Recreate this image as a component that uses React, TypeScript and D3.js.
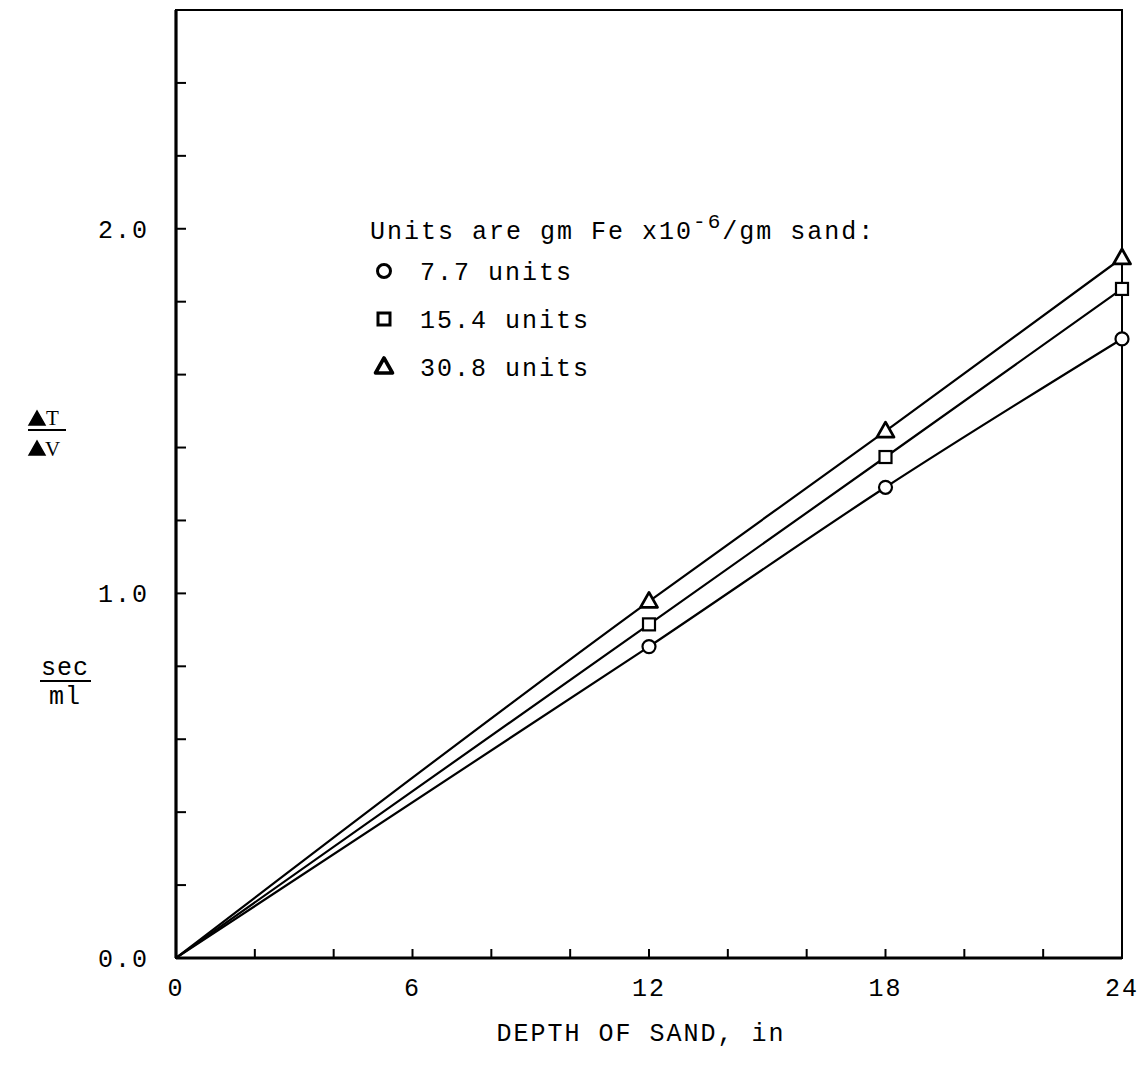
import React from "react";
import * as d3 from "d3";

// depth of sand (in) and measured dT/dV (sec/ml)
const depths = [0, 12, 18, 24];
const units77 = [0, 0.854, 1.291, 1.698];
const units154 = [0, 0.915, 1.374, 1.835];
const units308 = [0, 0.978, 1.445, 1.92];

const xTickLabels = [0, 6, 12, 18, 24];
const yTickLabels = [0, 1, 2];
const legendLabels = ["7.7 units", "15.4 units", "30.8 units"];

const FONT = "'Liberation Mono', 'DejaVu Sans Mono', monospace";

const App = () => {
  const margin = { top: 10, right: 18, bottom: 111, left: 176 };
  const W = 1140;
  const H = 1069;
  const width = W - margin.left - margin.right;
  const height = H - margin.top - margin.bottom;

  const x = d3.scaleLinear().domain([0, 24]).range([0, width]);
  const y = d3.scaleLinear().domain([0, 2.6]).range([height, 0]);

  const line = d3
    .line<number>()
    .x((_, i) => x(depths[i]))
    .y((d) => y(d))
    .curve(d3.curveMonotoneX);

  const series = [
    { vals: units77, shape: "circle" },
    { vals: units154, shape: "square" },
    { vals: units308, shape: "triangle" },
  ];

  const marker = (shape: string, cx: number, cy: number, key: string, sw = 2.2) => {
    if (shape === "circle")
      return <circle key={key} cx={cx} cy={cy} r={6.5} fill="#fff" stroke="#000" strokeWidth={sw} />;
    if (shape === "square")
      return <rect key={key} x={cx - 6} y={cy - 6} width={12} height={12} fill="#fff" stroke="#000" strokeWidth={sw} />;
    return (
      <path
        key={key}
        d={`M${cx},${cy - 9}L${cx + 8.5},${cy + 6}L${cx - 8.5},${cy + 6}Z`}
        fill="#fff"
        stroke="#000"
        strokeWidth={sw + 0.6}
        strokeLinejoin="round"
      />
    );
  };

  const textStyle = { fontFamily: FONT, fontSize: 25, letterSpacing: 2 };

  return (
    <svg
      width={W}
      height={H}
      style={{ position: "absolute", left: 0, top: 0, background: "#fff" }}
    >
      <g transform={`translate(${margin.left},${margin.top})`}>
        {/* frame */}
        <rect x={0} y={0} width={width} height={height} fill="none" stroke="#000" strokeWidth={2} />
        <line x1={0} y1={0} x2={0} y2={height} stroke="#000" strokeWidth={3.2} />
        <line x1={0} y1={height} x2={width} y2={height} stroke="#000" strokeWidth={3.2} />

        {/* minor ticks, inward */}
        {d3.range(2, 24, 2).map((t) => (
          <line key={"xt" + t} x1={x(t)} x2={x(t)} y1={height} y2={height - 9} stroke="#000" strokeWidth={2} />
        ))}
        {d3.range(1, 13).map((i) => (
          <line key={"yt" + i} x1={0} x2={10} y1={y(i * 0.2)} y2={y(i * 0.2)} stroke="#000" strokeWidth={2} />
        ))}

        {/* tick labels */}
        {xTickLabels.map((t) => (
          <text key={"xl" + t} x={x(t)} y={height + 38} textAnchor="middle" style={textStyle}>
            {t}
          </text>
        ))}
        {yTickLabels.map((t) => (
          <text key={"yl" + t} x={-27} y={y(t) + 9} textAnchor="end" style={textStyle}>
            {d3.format(".1f")(t)}
          </text>
        ))}

        {/* curves */}
        {series.map((s, i) => (
          <path key={"l" + i} d={line(s.vals) || ""} fill="none" stroke="#000" strokeWidth={2.2} />
        ))}
        {series.map((s, i) =>
          s.vals.map((v, j) => (j === 0 ? null : marker(s.shape, x(depths[j]), y(v), `m${i}-${j}`)))
        )}
      </g>

      {/* legend */}
      <text x={370} y={239} style={textStyle}>
        Units are gm Fe x10
        <tspan dy={-11} style={{ fontSize: 21 }}>-6</tspan>
        <tspan dy={11}>/gm sand:</tspan>
      </text>
      {legendLabels.map((lab, i) => (
        <g key={"lg" + i}>
          {marker(series[i].shape, 384, 271 + i * 48, "lm" + i, 3)}
          <text x={420} y={280 + i * 48} style={textStyle}>
            {lab}
          </text>
        </g>
      ))}

      {/* axis titles */}
      <text x={641} y={1041} textAnchor="middle" style={textStyle}>
        DEPTH OF SAND, in
      </text>
      <g style={{ fontFamily: "'Liberation Serif', serif", fontSize: 21 }}>
        <path d="M29,425L37,411L45,425Z" fill="#000" stroke="#000" strokeWidth={1.5} />
        <text x={46} y={425}>T</text>
        <line x1={28} x2={66} y1={430} y2={430} stroke="#000" strokeWidth={2.2} />
        <path d="M29,455L37,441L45,455Z" fill="#000" stroke="#000" strokeWidth={1.5} />
        <text x={45} y={456}>V</text>
      </g>
      <g style={{ ...textStyle, letterSpacing: 1 }}>
        <text x={65} y={675} textAnchor="middle">sec</text>
        <line x1={40} x2={91} y1={681} y2={681} stroke="#000" strokeWidth={2} />
        <text x={65} y={704} textAnchor="middle">ml</text>
      </g>
    </svg>
  );
};

export default App;
